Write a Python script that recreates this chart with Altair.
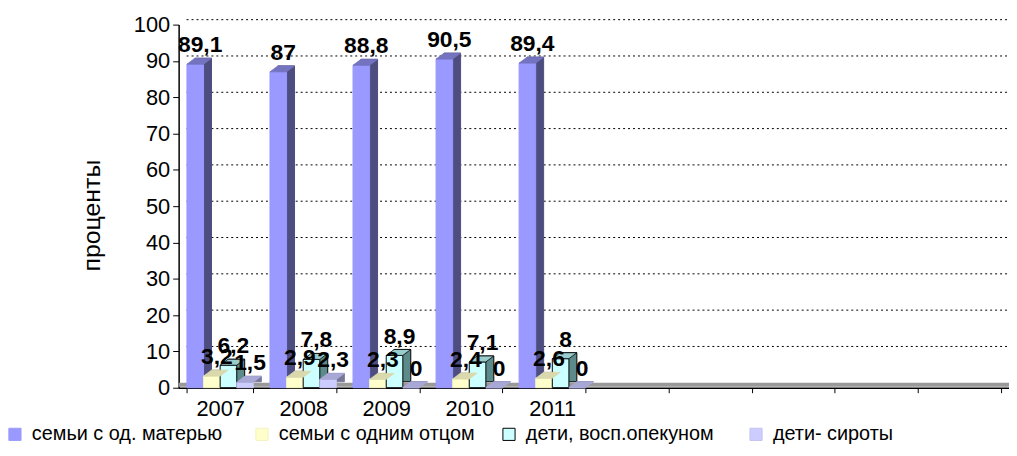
import altair as alt
import pandas as pd

# ---- data ----
years = ["2007", "2008", "2009", "2010", "2011"]
blank_cats = ["_1", "_2", "_3", "_4", "_5"]
series = ["семьи с од. матерью", "семьи с одним отцом", "дети, восп.опекуном", "дети- сироты"]
mother = [89.1, 87, 88.8, 90.5, 89.4]
father = [3.2, 2.9, 2.3, 2.4, 2.6]
guardian = [6.2, 7.8, 8.9, 7.1, 8]
orphans = [1.5, 2.3, 0, 0, 0]
y_ticks = [0, 10, 20, 30, 40, 50, 60, 70, 80, 90, 100]

# ---- styles ----
front_colors = ["#9999FF", "#FFFFCC", "#CCFFFF", "#CCCCFF"]
side_colors = ["#4D4D80", "#A6A680", "#5C8A8A", "#77779A"]
top_colors = ["#7373BF", "#D9D9AD", "#99CCCC", "#A8A8D6"]
front_strokes = ["#9999FF", "#F2F2C0", "#000000", "#C2C2F2"]
side_strokes = ["#4D4D80", "#A6A680", "#000000", "#77779A"]
top_strokes = ["#7373BF", "#D9D9AD", "#000000", "#A8A8D6"]
FONT = "Liberation Sans, Arial, sans-serif"

W, H = 837, 366
cats = years + blank_cats
step = W / len(cats)
band = step * 0.8
half = band / len(series) / 2
k = 10.0  # symbol scale = sqrt(400)/2
dxd, dyd = 8.0, -6.0
top_path = (
    f"M{-half/k:.3f},0L{half/k:.3f},0L{(half+dxd)/k:.3f},{dyd/k:.3f}"
    f"L{(-half+dxd)/k:.3f},{dyd/k:.3f}Z"
)

rows = []
for i, yr in enumerate(years):
    for s, vals in zip(series, [mother, father, guardian, orphans]):
        v = vals[i]
        rows.append({"cat": yr, "series": s, "value": v,
                     "label": f"{v:g}".replace(".", ",")})
df = pd.DataFrame(rows)

x_enc = alt.X(
    "cat:N",
    sort=cats,
    scale=alt.Scale(domain=cats, paddingInner=0.2, paddingOuter=0.1),
    title=None,
    axis=alt.Axis(
        labelExpr="substring(datum.label,0,1) == '_' ? '' : datum.label",
        labelAngle=0, labelFontSize=22, labelFont=FONT, labelColor="black",
        tickBand="extent", tickSize=5, tickColor="black", labelPadding=6,
        domainColor="black", domainWidth=1.5,
    ),
)

y_scale = alt.Scale(domain=[0, 100], nice=False, zero=True)
y_axis = alt.Axis(
    values=y_ticks, grid=False, labelFontSize=22, labelFont=FONT, labelColor="black",
    tickSize=6, tickColor="black", labelPadding=3, domainColor="black", domainWidth=1.5,
    titleFontSize=25, titleFont=FONT, titleFontWeight="normal", titleColor="black",
    titleX=-75, titleY=192,
)


def Y(field):
    return alt.Y(field, scale=y_scale, axis=y_axis, title="проценты")


def xoff(shift):
    return alt.XOffset("series:N", sort=series,
                       scale=alt.Scale(domain=series, range=[shift, shift + band]))


legend = alt.Legend(
    orient="none", legendX=-175, legendY=403, direction="horizontal", columns=4,
    gridAlign="all", title=None, symbolType="square", symbolSize=150,
    labelFontSize=20, labelFont=FONT, labelColor="black", columnPadding=24,
    labelOffset=7, symbolStrokeWidth=1, labelLimit=0,
)

grid = alt.Chart(pd.DataFrame({"v": y_ticks[1:]})).mark_rule(
    color="#000000", strokeDash=[2, 3], strokeWidth=1, yOffset=-5
).encode(y=Y("v:Q"), x=alt.value(8), x2=alt.value(W))

floor = alt.Chart(pd.DataFrame({"v": [0]})).mark_rule(
    color="#999999", strokeWidth=4, yOffset=-3
).encode(y=Y("v:Q"))

base = alt.Chart(df)

side = base.mark_bar(yOffset=dyd, strokeWidth=1).encode(
    x=x_enc, xOffset=xoff(dxd), y=Y("value:Q"),
    color=alt.Color("series:N", sort=series,
                    scale=alt.Scale(domain=series, range=side_colors), legend=None),
    stroke=alt.Stroke("series:N", sort=series,
                      scale=alt.Scale(domain=series, range=side_strokes), legend=None),
)

front = base.mark_bar(strokeWidth=1).encode(
    x=x_enc, xOffset=xoff(0), y=Y("value:Q"),
    color=alt.Color("series:N", sort=series,
                    scale=alt.Scale(domain=series, range=front_colors), legend=legend),
    stroke=alt.Stroke("series:N", sort=series,
                      scale=alt.Scale(domain=series, range=front_strokes), legend=legend),
)

top = base.mark_point(shape=top_path, size=400, filled=True, opacity=1,
                      strokeWidth=0.8).encode(
    x=x_enc, xOffset=xoff(0), y=Y("value:Q"),
    fill=alt.Fill("series:N", sort=series,
                  scale=alt.Scale(domain=series, range=top_colors), legend=None),
    stroke=alt.Stroke("series:N", sort=series,
                      scale=alt.Scale(domain=series, range=top_strokes), legend=None),
)

labels = base.mark_text(fontSize=23, fontWeight="bold", font=FONT, dx=5, dy=-12,
                        baseline="alphabetic", color="black").encode(
    x=x_enc, xOffset=xoff(0), y=Y("value:Q"), text="label:N",
)

chart = alt.layer(grid, floor, side, front, top, labels).resolve_scale(
    color="independent", stroke="independent", fill="independent", xOffset="independent"
).properties(
    width=W, height=H,
    padding={"left": 172, "top": 15, "right": 0, "bottom": 59},
    autosize=alt.AutoSizeParams(type="none"),
    background="white",
).configure_view(stroke=None)

chart.save("out.html", embed_options={"renderer": "svg", "actions": False})
